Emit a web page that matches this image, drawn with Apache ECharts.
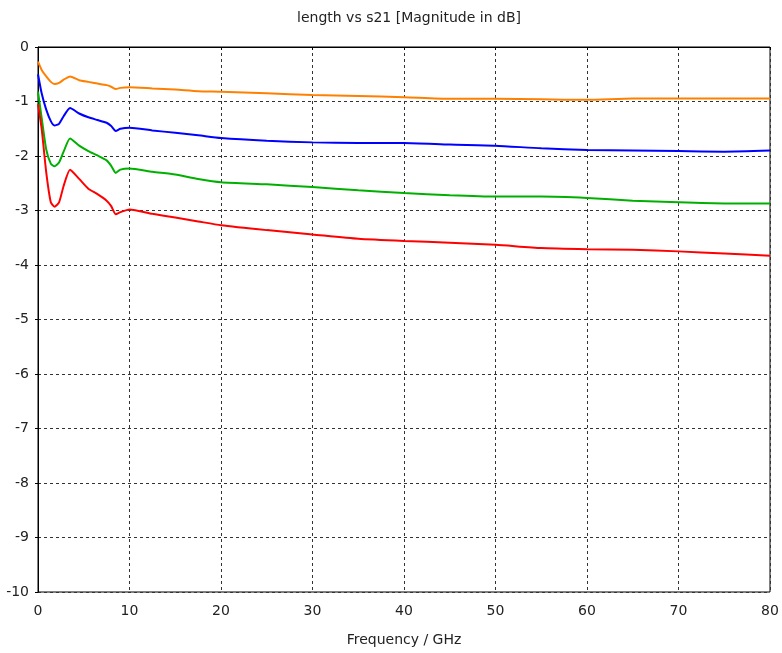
<!DOCTYPE html>
<html>
<head>
<meta charset="utf-8">
<script src="https://cdn.jsdelivr.net/npm/echarts@6/dist/echarts.min.js"></script>
<style>
  html, body { margin: 0; padding: 0; background: #fff; }
  #chart { width: 782px; height: 653px; }
</style>
</head>
<body>
<div id="chart"></div>
<script>
// frequency points (GHz), shared by all curves
const freq = [0, 0.4, 0.9, 1.4, 1.8, 2.3, 2.8, 3.5, 4.5, 5.5, 6.5, 7.5, 8.0, 8.5, 9.0, 10,
  12.5, 15, 17.5, 20, 25, 30, 35, 40, 45, 50, 55, 60, 65, 70, 75, 80];

// s21 magnitude (dB) for each length
const orangeS21 = [-0.27, -0.42, -0.54, -0.64, -0.68, -0.66, -0.6, -0.54, -0.61, -0.64, -0.67, -0.7, -0.73, -0.77, -0.75, -0.74,
  -0.76, -0.78, -0.81, -0.82, -0.85, -0.88, -0.9, -0.92, -0.95, -0.95, -0.96, -0.97, -0.945, -0.945, -0.945, -0.945];
const blueS21 = [-0.5, -0.85, -1.15, -1.36, -1.44, -1.41, -1.27, -1.12, -1.22, -1.29, -1.34, -1.39, -1.45, -1.54, -1.5, -1.48,
  -1.53, -1.575, -1.62, -1.67, -1.72, -1.75, -1.76, -1.76, -1.79, -1.81, -1.86, -1.89, -1.9, -1.91, -1.92, -1.9];
const greenS21 = [-0.82, -1.3, -1.88, -2.14, -2.19, -2.12, -1.92, -1.68, -1.81, -1.91, -1.99, -2.08, -2.18, -2.31, -2.25, -2.23,
  -2.29, -2.34, -2.42, -2.48, -2.52, -2.57, -2.63, -2.68, -2.72, -2.745, -2.745, -2.77, -2.82, -2.85, -2.87, -2.87];
const redS21 = [-1.05, -1.5, -2.3, -2.85, -2.93, -2.85, -2.55, -2.25, -2.42, -2.6, -2.7, -2.82, -2.92, -3.07, -3.03, -2.98,
  -3.06, -3.13, -3.2, -3.27, -3.36, -3.44, -3.52, -3.56, -3.59, -3.63, -3.69, -3.71, -3.72, -3.75, -3.79, -3.83];

const chart = echarts.init(document.getElementById("chart"));

const font = "DejaVu Sans";
const mkSeries = (vals, color) => ({
  type: "line",
  data: freq.map((f, i) => [f, vals[i]]),
  showSymbol: false,
  smooth: 0.2,
  lineStyle: { color: color, width: 2 },
  itemStyle: { color: color },
});

chart.setOption({
  animation: false,
  title: {
    text: "length vs s21 [Magnitude in dB]",
    left: 404,
    textAlign: "center",
    top: 6,
    textStyle: { fontFamily: font, fontSize: 14, fontWeight: "normal", color: "#222" },
  },
  grid: { left: 38, right: 12, top: 47, bottom: 61, show: true, borderColor: "#000", borderWidth: 1 },
  xAxis: {
    type: "value",
    min: 0,
    max: 80,
    interval: 10,
    name: "Frequency / GHz",
    nameLocation: "middle",
    nameGap: 41,
    nameTextStyle: { fontFamily: font, fontSize: 14, color: "#222" },
    axisLine: { lineStyle: { color: "#000" } },
    axisTick: { show: true, length: 3, lineStyle: { color: "#000" } },
    axisLabel: { fontFamily: font, fontSize: 14, color: "#222", margin: 12 },
    splitLine: { show: true, lineStyle: { color: "#333", type: [3, 3], width: 1 } },
  },
  yAxis: {
    type: "value",
    min: -10,
    max: 0,
    interval: 1,
    axisLine: { show: true, lineStyle: { color: "#000" } },
    axisTick: { show: true, length: 3, lineStyle: { color: "#000" } },
    axisLabel: { fontFamily: font, fontSize: 14, color: "#222", margin: 9 },
    splitLine: { show: true, lineStyle: { color: "#333", type: [3, 3], width: 1 } },
  },
  series: [
    mkSeries(orangeS21, "#ff8000"),
    mkSeries(blueS21, "#0000ff"),
    mkSeries(greenS21, "#00b000"),
    mkSeries(redS21, "#ff0000"),
  ],
});
</script>
</body>
</html>
